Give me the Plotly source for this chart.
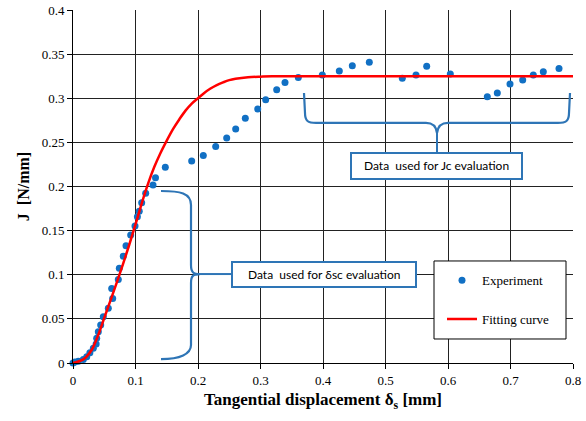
import plotly.graph_objects as go

# Experimental data (Tangential displacement [mm], J [N/mm])
exp_x = [0.000, 0.003, 0.0085, 0.0165, 0.022, 0.027, 0.0325, 0.037, 0.0379, 0.0405,
         0.0443, 0.0485, 0.0565, 0.0635, 0.0619, 0.0725, 0.0741, 0.0805, 0.0848,
         0.0923, 0.0992, 0.103, 0.106, 0.1099, 0.1163, 0.128, 0.132, 0.1477,
         0.1899, 0.2085, 0.2283, 0.2459, 0.2603, 0.2757, 0.2955, 0.3083, 0.3259,
         0.3392, 0.3605, 0.3989, 0.4261, 0.4469, 0.4741, 0.5269, 0.5488, 0.5659,
         0.6037, 0.6629, 0.6789, 0.6992, 0.7195, 0.7365, 0.7525, 0.7776]
exp_J = [0.000, 0.001, 0.002, 0.004, 0.007, 0.0117, 0.0166, 0.0215, 0.028, 0.0355,
         0.043, 0.0525, 0.062, 0.0732, 0.0844, 0.0947, 0.1073, 0.121, 0.133,
         0.145, 0.1552, 0.1657, 0.1719, 0.1816, 0.1923, 0.2017, 0.210, 0.2218,
         0.229, 0.235, 0.2453, 0.2550, 0.2652, 0.2772, 0.2878, 0.2984, 0.3097,
         0.3178, 0.3235, 0.3263, 0.3309, 0.3369, 0.3407, 0.3226, 0.3263, 0.3362,
         0.3274, 0.3017, 0.3059, 0.3161, 0.3206, 0.3263, 0.3301, 0.3336]

# Fitting curve
fit_x = [0, 0.01, 0.02, 0.03, 0.04, 0.05, 0.06, 0.07, 0.08, 0.09, 0.10, 0.11,
         0.12, 0.13, 0.14, 0.15, 0.16, 0.17, 0.18, 0.19, 0.20, 0.21, 0.22, 0.23,
         0.24, 0.25, 0.26, 0.28, 0.30, 0.32, 0.35, 0.40, 0.50, 0.60, 0.70, 0.80]
fit_J = [0, 0.002, 0.006, 0.015, 0.031, 0.051, 0.071, 0.091, 0.112, 0.134, 0.157,
         0.181, 0.203, 0.222, 0.238, 0.252, 0.265, 0.276, 0.286, 0.294, 0.300,
         0.306, 0.311, 0.315, 0.318, 0.3205, 0.322, 0.3238, 0.3245, 0.3248,
         0.325, 0.325, 0.325, 0.325, 0.325, 0.325]

x_ticks = [0, 0.1, 0.2, 0.3, 0.4, 0.5, 0.6, 0.7, 0.8]
x_labels = ["0", "0.1", "0.2", "0.3", "0.4", "0.5", "0.6", "0.7", "0.8"]
y_ticks = [0, 0.05, 0.1, 0.15, 0.2, 0.25, 0.3, 0.35, 0.4]
y_labels = ["0", "0.05", "0.1", "0.15", "0.2", "0.25", "0.3", "0.35", "0.4"]

BLUE = "#1170C4"
BRACE = "#2E75B6"
SERIF = "Liberation Serif, Times New Roman, serif"
SANS = "Lato"

fig = go.Figure()
fig.add_trace(go.Scatter(x=exp_x, y=exp_J, mode="markers", name="Experiment",
                         legendgroup="a",
                         marker=dict(color=BLUE, size=7), cliponaxis=False))
fig.add_trace(go.Scatter(x=fit_x, y=fit_J, mode="lines", name="Fitting curve",
                         legendgroup="b",
                         line=dict(color="#FF0000", width=2.5, shape="spline"),
                         cliponaxis=False))

shapes = []
# legend frame
shapes.append(dict(type="rect", xref="paper", yref="paper", x0=0.722, x1=0.986,
                   y0=0.068, y1=0.289, fillcolor="white",
                   line=dict(color="black", width=1), layer="above"))
# vertical brace (delta_sc)
brace1 = ("M 0.1408,0.1949 C 0.1712,0.1949 0.1888,0.1926 0.1888,0.179 "
          "L 0.1888,0.111 C 0.1888,0.1031 0.192,0.1008 0.2032,0.1008 "
          "C 0.192,0.1008 0.1888,0.0986 0.1888,0.0907 L 0.1888,0.0204 "
          "C 0.1888,0.0102 0.1712,0.0045 0.1408,0.0045")
shapes.append(dict(type="path", xref="x", yref="y", path=brace1,
                   line=dict(color=BRACE, width=2.2), layer="above"))
shapes.append(dict(type="line", xref="x", yref="y", x0=0.2032, x1=0.2544,
                   y0=0.1008, y1=0.1008, line=dict(color=BRACE, width=2), layer="above"))
shapes.append(dict(type="rect", xref="x", yref="y", x0=0.2544, x1=0.5488,
                   y0=0.0861, y1=0.1144, fillcolor="white",
                   line=dict(color=BRACE, width=2), layer="above"))
# horizontal brace (Jc)
brace2 = ("M 0.3696,0.306 L 0.3712,0.2833 C 0.3712,0.2742 0.376,0.272 0.3888,0.272 "
          "L 0.5648,0.272 C 0.576,0.272 0.5808,0.2686 0.5824,0.2606 "
          "C 0.584,0.2686 0.5888,0.272 0.6,0.272 L 0.776,0.272 "
          "C 0.7888,0.272 0.7936,0.2742 0.7936,0.2833 L 0.7952,0.306")
shapes.append(dict(type="path", xref="x", yref="y", path=brace2,
                   line=dict(color=BRACE, width=2.2), layer="above"))
shapes.append(dict(type="line", xref="x", yref="y", x0=0.5824, x1=0.5824,
                   y0=0.2606, y1=0.238, line=dict(color=BRACE, width=2), layer="above"))
shapes.append(dict(type="rect", xref="x", yref="y", x0=0.4448, x1=0.7184,
                   y0=0.2085, y1=0.238, fillcolor="white",
                   line=dict(color=BRACE, width=2), layer="above"))

annotations = [
    dict(x=(0.2544 + 0.5488) / 2, y=(0.0861 + 0.1144) / 2, xref="x", yref="y",
         text="Data\u00a0 used for \u03b4sc evaluation", showarrow=False,
         font=dict(family=SANS, size=12, color="black")),
    dict(x=(0.4448 + 0.7184) / 2, y=(0.2085 + 0.238) / 2, xref="x", yref="y",
         text="Data\u00a0 used for Jc evaluation", showarrow=False,
         font=dict(family=SANS, size=12, color="black")),
]

fig.update_layout(
    width=586, height=421,
    margin=dict(l=73, r=13, t=10, b=58),
    paper_bgcolor="white", plot_bgcolor="white",
    showlegend=True,
    legend=dict(x=0.738, y=0.277, xanchor="left", yanchor="top",
                bgcolor="rgba(0,0,0,0)", borderwidth=0, tracegroupgap=19,
                font=dict(family=SERIF, size=13, color="black")),
    shapes=shapes,
    annotations=annotations,
    xaxis=dict(range=[0, 0.8], tickvals=x_ticks, ticktext=x_labels,
               automargin=False,
               showgrid=True, gridcolor="#222", gridwidth=1,
               showline=True, linecolor="black", linewidth=1,
               ticks="outside", ticklen=5, tickcolor="black",
               zeroline=False,
               tickfont=dict(family=SERIF, size=13, color="black"),
               title=dict(text="<b>Tangential displacement \u03b4<sub>s</sub> [mm]</b>",
                          font=dict(family=SERIF, size=17, color="black"),
                          standoff=6)),
    yaxis=dict(range=[0, 0.4], tickvals=y_ticks, ticktext=y_labels,
               automargin=False,
               showgrid=True, gridcolor="#222", gridwidth=1,
               showline=True, linecolor="black", linewidth=1,
               ticks="outside", ticklen=5, tickcolor="black",
               zeroline=False,
               tickfont=dict(family=SERIF, size=13, color="black"),
               title=dict(text="<b>J\u00a0 [N/mm]</b>",
                          font=dict(family=SERIF, size=16, color="black"),
                          standoff=8)),
)

fig.write_html("out.html")
